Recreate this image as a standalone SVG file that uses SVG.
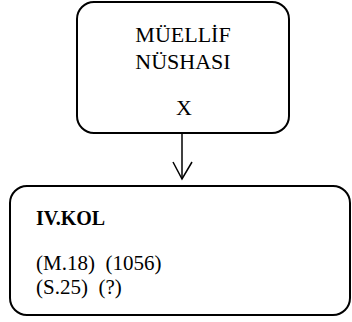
<svg xmlns="http://www.w3.org/2000/svg" width="352" height="322" viewBox="0 0 352 322">
  <style>
    .box { fill: #ffffff; stroke: #000000; stroke-width: 2; }
    .t { fill: #000000; font-family: "Liberation Serif", "Times New Roman", "DejaVu Serif", serif; }
    .edge { fill: none; stroke: #000000; stroke-width: 1.5; }
  </style>
  <rect width="352" height="322" fill="#ffffff"/>
  <g id="node-author">
    <rect class="box" x="77" y="2" width="212" height="131" rx="17" ry="17"/>
    <text class="t" x="183" y="42" font-size="22" text-anchor="middle">MÜELLİF</text>
    <text class="t" x="183" y="69" font-size="22" text-anchor="middle">NÜSHASI</text>
    <text class="t" x="184" y="115" font-size="22" text-anchor="middle">X</text>
  </g>
  <g id="connectors">
    <path class="edge" d="M182 134 V179"/>
    <path class="edge" d="M173 162 L182 179 L192 162"/>
  </g>
  <g id="node-ivkol">
    <rect class="box" x="10" y="186" width="340" height="129" rx="17" ry="17"/>
    <text class="t" x="36" y="225" font-size="20" font-weight="bold">IV.KOL</text>
    <text class="t" x="36" y="270" font-size="21" xml:space="preserve">(M.18)  (1056)</text>
    <text class="t" x="36" y="294" font-size="21" xml:space="preserve">(S.25)  (?)</text>
  </g>
</svg>
